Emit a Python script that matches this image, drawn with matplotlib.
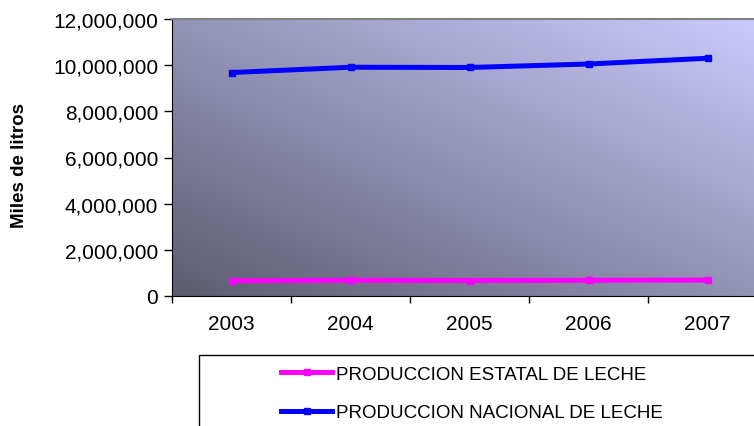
import numpy as np
import matplotlib.pyplot as plt
from matplotlib.patches import Rectangle
from matplotlib.ticker import FuncFormatter

plt.rcParams['font.family'] = ['Liberation Sans', 'DejaVu Sans']

years = ['2003', '2004', '2005', '2006', '2007']
estatal = [660000, 680000, 670000, 680000, 690000]
nacional = [9680000, 9910000, 9900000, 10050000, 10300000]

fig = plt.figure(figsize=(7.54, 4.27), dpi=100)
W, H = 754, 427
# plot area runs past the right edge, like the original
ax = fig.add_axes([172 / W, (H - 297) / H, 595 / W, 277 / H])

# diagonal gradient background
c0 = np.array([92, 92, 112]) / 255
c1 = np.array([204, 204, 255]) / 255
u, v = np.meshgrid(np.linspace(0, 1, 300), np.linspace(0, 1, 200))
t = (u + v) / 2
img = c0 + (c1 - c0) * t[..., None]
ax.imshow(img, extent=[0, 1, 0, 1], transform=ax.transAxes, origin='lower',
          aspect='auto', zorder=0)

x = np.arange(len(years))
ax.plot(x, estatal, color='#ff00ff', lw=3.6, marker='s', ms=5, zorder=3,
        label='PRODUCCION ESTATAL DE LECHE')
ax.plot(x, nacional, color='#0000ff', lw=3.6, marker='s', ms=5, zorder=3,
        label='PRODUCCION NACIONAL DE LECHE')

ax.set_xlim(-0.5, 4.5)
ax.set_ylim(0, 12000000)
ax.set_yticks(np.arange(0, 12000001, 2000000))
ax.yaxis.set_major_formatter(FuncFormatter(lambda val, p: f'{int(val):,}'))
ax.set_xticks(np.arange(-0.5, 5, 1))
ax.set_xticklabels([])
ax.set_xticks(x, minor=True)
ax.set_xticklabels(years, minor=True)
ax.tick_params(axis='x', which='minor', length=0, pad=13, labelsize=15)
ax.tick_params(axis='x', which='major', length=5, width=1)
ax.tick_params(axis='y', length=6, width=1, labelsize=15, pad=4)

ax.spines['right'].set_visible(False)
ax.spines['top'].set_color('#808080')
ax.spines['top'].set_linewidth(1.5)

fig.text(19.5 / W, 1 - 166 / H, 'Miles de litros', rotation=90, ha='center',
         va='center', fontsize=13.5, fontweight='bold')

# legend box
fig.patches.append(Rectangle((199 / W, -0.2), 1, (H - 356) / H + 0.2,
                             transform=fig.transFigure, fill=False,
                             edgecolor='black', lw=1))
leg = fig.legend(loc='upper left', bbox_to_anchor=(264 / W, 1 - 350 / H),
                 frameon=False, fontsize=13.5, handlelength=2.75,
                 handletextpad=0.2, labelspacing=1.13)

fig.savefig('out.png', dpi=100)
